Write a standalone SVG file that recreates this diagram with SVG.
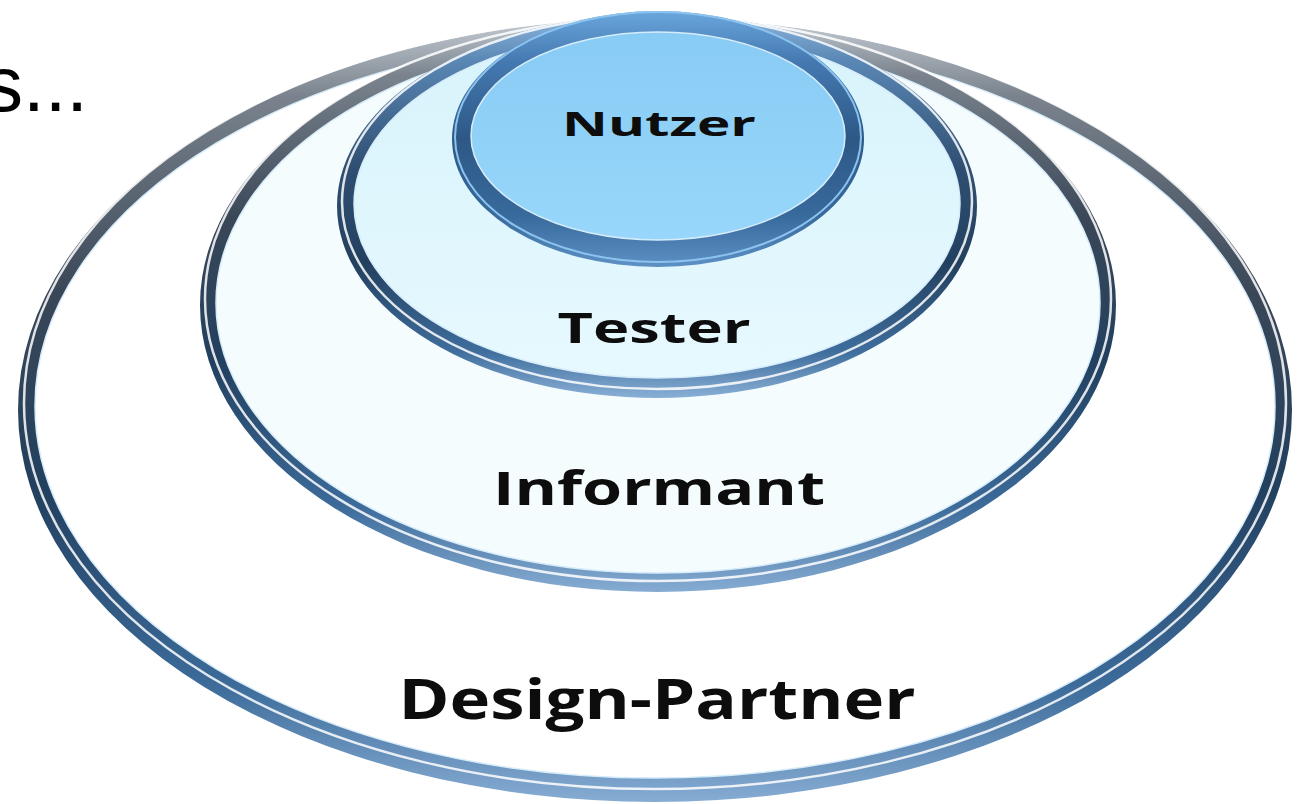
<svg xmlns="http://www.w3.org/2000/svg" width="1303" height="804" viewBox="0 0 1303 804">
<defs>
<linearGradient id="gRing" x1="0" y1="0" x2="0" y2="1">
<stop offset="0" stop-color="#c3cad2"/>
<stop offset="0.1" stop-color="#7a838d"/>
<stop offset="0.35" stop-color="#3a4757"/>
<stop offset="0.6" stop-color="#22405f"/>
<stop offset="0.85" stop-color="#3c6b9a"/>
<stop offset="1" stop-color="#86acd3"/>
</linearGradient>
<linearGradient id="gRingT" x1="0" y1="0" x2="0" y2="1">
<stop offset="0" stop-color="#8fb7de"/>
<stop offset="0.12" stop-color="#5a87b5"/>
<stop offset="0.4" stop-color="#2f4f72"/>
<stop offset="0.65" stop-color="#23405f"/>
<stop offset="0.88" stop-color="#3f6e9d"/>
<stop offset="1" stop-color="#89afd6"/>
</linearGradient>
<linearGradient id="gRingN" x1="0" y1="0" x2="0" y2="1">
<stop offset="0" stop-color="#6aa6dc"/>
<stop offset="0.2" stop-color="#4479b0"/>
<stop offset="0.5" stop-color="#2d5886"/>
<stop offset="0.8" stop-color="#386a9c"/>
<stop offset="1" stop-color="#5d90c4"/>
</linearGradient>
<linearGradient id="gNutzer" x1="0" y1="0" x2="0" y2="1">
<stop offset="0" stop-color="#88cbf4"/>
<stop offset="1" stop-color="#98d7fb"/>
</linearGradient>
<linearGradient id="gTester" x1="0" y1="0" x2="0" y2="1">
<stop offset="0" stop-color="#d8f3fc"/>
<stop offset="1" stop-color="#e6f9fe"/>
</linearGradient>
</defs>
<style>
.lbl{font-family:"Open Sans","Noto Sans","DejaVu Sans",sans-serif;font-weight:700;fill:#0d0d0d;text-anchor:middle}
.hl{fill:none;stroke:#ffffff;stroke-width:2.5;opacity:0.85}
.in{fill:none;stroke:#d6ecfa;stroke-width:1.5}
</style>
<rect width="1303" height="804" fill="#ffffff"/>
<text x="-16" y="111" font-family="Liberation Sans, Arial, sans-serif" font-size="78" fill="#000000">s...</text>

<g id="design-partner">
<ellipse cx="655" cy="406" rx="620" ry="372" fill="#ffffff"/>
<path fill="url(#gRing)" fill-rule="evenodd" d="M18,410 a637,392 0 1,0 1274,0 a637,392 0 1,0 -1274,0 Z M35,406 a620,372 0 1,0 1240,0 a620,372 0 1,0 -1240,0 Z"/>
<ellipse class="hl" cx="655" cy="403" rx="631" ry="386"/>
<ellipse class="in" cx="655" cy="406" rx="620" ry="372"/>
<text class="lbl" x="657" y="719" font-size="55" textLength="517" lengthAdjust="spacingAndGlyphs">Design-Partner</text>
</g>

<g id="informant">
<ellipse cx="658" cy="303" rx="442" ry="270" fill="#f5fcfe"/>
<path fill="url(#gRing)" fill-rule="evenodd" d="M200,305 a458,287 0 1,0 916,0 a458,287 0 1,0 -916,0 Z M216,303 a442,270 0 1,0 884,0 a442,270 0 1,0 -884,0 Z"/>
<ellipse class="hl" cx="658" cy="299" rx="453" ry="282"/>
<ellipse class="in" cx="658" cy="303" rx="442" ry="270"/>
<text class="lbl" x="659" y="505" font-size="46" textLength="332" lengthAdjust="spacingAndGlyphs">Informant</text>
</g>

<g id="tester">
<ellipse cx="657" cy="204" rx="303" ry="174" fill="url(#gTester)"/>
<path fill="url(#gRingT)" fill-rule="evenodd" d="M337,206 a320,192 0 1,0 640,0 a320,192 0 1,0 -640,0 Z M354,204 a303,174 0 1,0 606,0 a303,174 0 1,0 -606,0 Z"/>
<ellipse class="hl" cx="657" cy="202" rx="315" ry="187"/>
<ellipse class="in" cx="657" cy="204" rx="303" ry="174"/>
<text class="lbl" x="654" y="343" font-size="42" textLength="193" lengthAdjust="spacingAndGlyphs">Tester</text>
</g>

<g id="nutzer">
<ellipse cx="658" cy="136" rx="187" ry="104" fill="url(#gNutzer)"/>
<path fill="url(#gRingN)" fill-rule="evenodd" d="M452,139 a206,128 0 1,0 412,0 a206,128 0 1,0 -412,0 Z M471,136 a187,104 0 1,0 374,0 a187,104 0 1,0 -374,0 Z"/>
<ellipse fill="none" stroke="#8cc3ee" stroke-width="2" cx="658" cy="137" rx="203" ry="125"/>
<ellipse class="in" cx="658" cy="136" rx="187" ry="104"/>
<text class="lbl" x="659" y="136" font-size="34" textLength="194" lengthAdjust="spacingAndGlyphs">Nutzer</text>
</g>
</svg>
